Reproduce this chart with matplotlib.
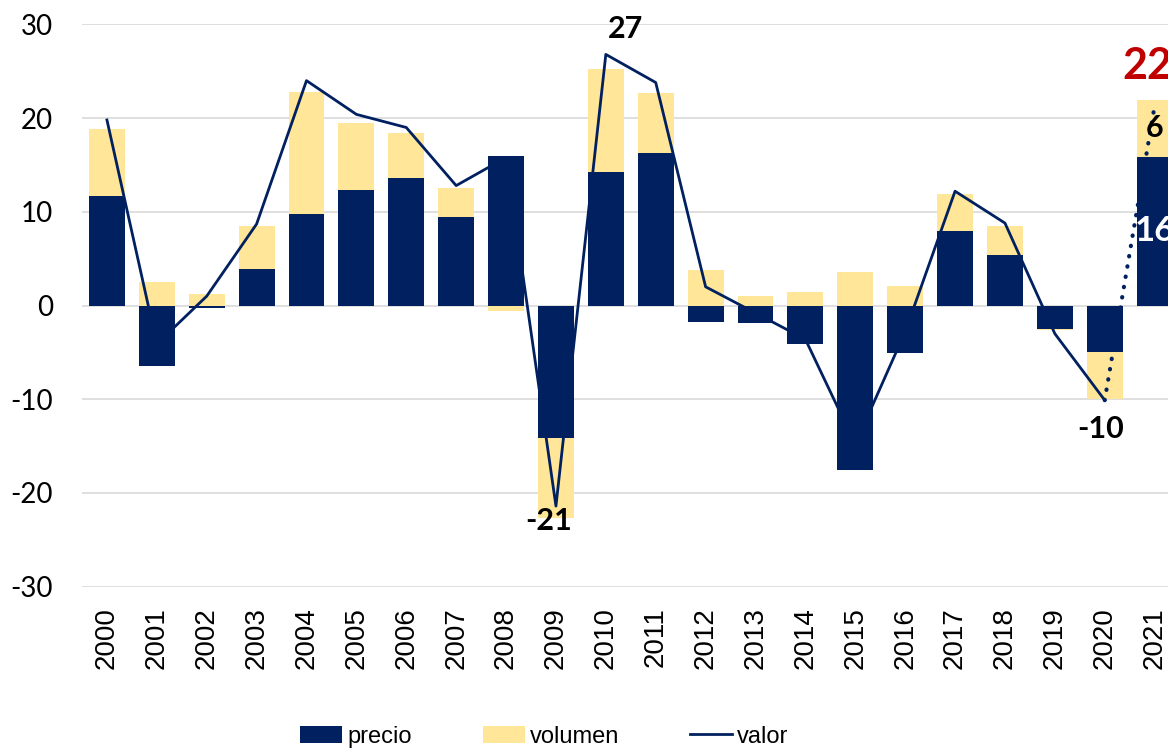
import matplotlib.pyplot as plt
import numpy as np

plt.rcParams['axes.unicode_minus'] = False

# data
years = [str(y) for y in range(2000, 2022)]
precio = [11.7, -6.5, -0.3, 3.9, 9.8, 12.3, 13.6, 9.5, 16.0, -14.1, 14.2,
          16.3, -1.8, -1.9, -4.1, -17.6, -5.1, 8.0, 5.4, -2.5, -5.0, 15.9]
volumen = [7.1, 2.5, 1.2, 4.6, 13.0, 7.2, 4.8, 3.0, -0.6, -8.6, 11.0,
           6.4, 3.8, 1.0, 1.4, 3.6, 2.1, 3.9, 3.1, -0.1, -5.0, 6.0]
valor = [19.8, -4.1, 1.0, 8.7, 24.0, 20.4, 19.0, 12.8, 15.8, -21.4, 26.8,
         23.8, 2.0, -0.8, -3.6, -14.8, -2.8, 12.2, 8.8, -3.0, -10.1]
# dotted estimate from 2020 to 2021
est_years = ['2020', '2021']
est_valor = [-10.1, 21.3]

navy = '#002060'
yellow = '#FFE699'

fig = plt.figure(figsize=(11.68, 7.51), dpi=100)
ax = fig.add_axes([0.0702, 0.2188, 0.9397, 0.7487])

x = np.arange(len(years))
p = np.array(precio)
v = np.array(volumen)
# stacked like excel: same sign goes on top of precio, opposite sign starts at 0
bottom_v = np.where(np.sign(p) == np.sign(v), p, 0)

b1 = ax.bar(x, p, width=0.72, color=navy, label='precio', zorder=2)
b2 = ax.bar(x, v, width=0.72, bottom=bottom_v, color=yellow, label='volumen', zorder=2)
l1, = ax.plot(x[:len(valor)], valor, color=navy, lw=2.0, label='valor', zorder=3)
xe = [years.index(y) for y in est_years]
ax.plot(xe, est_valor, color=navy, lw=3.0, linestyle=(0, (0.1, 2.4)),
        dash_capstyle='round', zorder=3)

ax.set_xlim(-0.5, len(years) - 0.5)
ax.set_ylim(-30, 30)
ax.set_yticks(range(-30, 31, 10))
ax.grid(axis='y', color='#D9D9D9', lw=1.2, zorder=0)
for s in ax.spines.values():
    s.set_visible(False)
ax.set_xticks(x)
ax.set_xticklabels(years, rotation=90, fontsize=20, family='Liberation Sans')
ax.tick_params(axis='x', length=0, pad=15)
ax.tick_params(axis='y', length=0, pad=21, labelsize=20)
for t in ax.get_yticklabels():
    t.set_family('Lato')

# data labels
lbl = dict(fontsize=22, fontweight='bold', family='Lato', ha='center', va='center',
           textcoords='offset points', annotation_clip=False)
i = years.index('2010')
ax.annotate(f"{round(valor[i])}", (i, valor[i]), xytext=(14, 18), **lbl)
i = years.index('2009')
ax.annotate(f"{round(valor[i])}", (i, valor[i]), xytext=(-5, -11), **lbl)
i = years.index('2020')
ax.annotate(f"{round(valor[i])}", (i, valor[i]), xytext=(-3, -21), **lbl)

i = years.index('2021')
total = p[i] + v[i]
ax.annotate(f"{round(total)}", (i, total), xytext=(-5, 25), color='#C00000',
            **{**lbl, 'fontsize': 31})
ax.annotate(f"{round(v[i])}", (i, p[i] + v[i] / 2), xytext=(0, 0), **lbl)
ax.annotate(f"{round(p[i])}", (i, p[i] / 2), xytext=(0, 0), color='white',
            **{**lbl, 'fontsize': 25})

leg = fig.legend([b1, b2, l1], ['precio', 'volumen', 'valor'],
                 loc='center', bbox_to_anchor=(0.466, 0.019), ncol=3, frameon=False,
                 prop={'family': 'Liberation Sans', 'size': 17},
                 handlelength=1.8, handleheight=0.75, handletextpad=0.2,
                 columnspacing=3.0)

fig.savefig('out.png', dpi=100)
